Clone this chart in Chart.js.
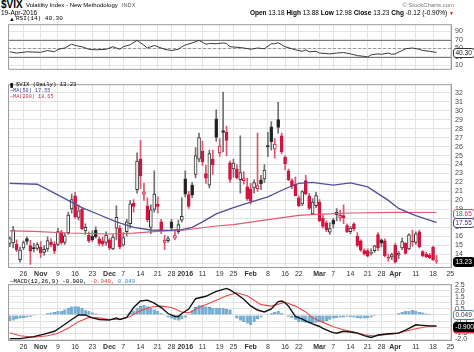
<!DOCTYPE html>
<html><head><meta charset="utf-8">
<title>$VIX Volatility Index</title>
<script src="https://cdn.jsdelivr.net/npm/chart.js"></script>
<style>
 html,body{margin:0;padding:0;background:#fff;}
 body{width:474px;height:352px;position:relative;overflow:hidden;font-family:"Liberation Sans",Arial,sans-serif;color:#000;}
 .t{position:absolute;white-space:nowrap;line-height:1;}
 .m{font-family:"Liberation Mono","DejaVu Sans Mono",monospace;}
 canvas{position:absolute;left:0;}
</style></head><body>
<canvas id="rsi" width="474" height="60" style="top:17px"></canvas>
<canvas id="price" width="474" height="202" style="top:77px"></canvas>
<canvas id="macd" width="474" height="75" style="top:277px"></canvas>
<div id="txt"></div>
<script>
// ---------- DATA ----------
const dates = [
'Oct 20','Oct 21','Oct 22','Oct 23','Oct 26','Oct 27','Oct 28','Oct 29','Oct 30',
'Nov 2','Nov 3','Nov 4','Nov 5','Nov 6','Nov 9','Nov 10','Nov 11','Nov 12','Nov 13','Nov 16','Nov 17','Nov 18','Nov 19','Nov 20','Nov 23','Nov 24','Nov 25','Nov 27','Nov 30',
'Dec 1','Dec 2','Dec 3','Dec 4','Dec 7','Dec 8','Dec 9','Dec 10','Dec 11','Dec 14','Dec 15','Dec 16','Dec 17','Dec 18','Dec 21','Dec 22','Dec 23','Dec 24','Dec 28','Dec 29','Dec 30','Dec 31',
'Jan 4','Jan 5','Jan 6','Jan 7','Jan 8','Jan 11','Jan 12','Jan 13','Jan 14','Jan 15','Jan 19','Jan 20','Jan 21','Jan 22','Jan 25','Jan 26','Jan 27','Jan 28','Jan 29',
'Feb 1','Feb 2','Feb 3','Feb 4','Feb 5','Feb 8','Feb 9','Feb 10','Feb 11','Feb 12','Feb 16','Feb 17','Feb 18','Feb 19','Feb 22','Feb 23','Feb 24','Feb 25','Feb 26','Feb 29',
'Mar 1','Mar 2','Mar 3','Mar 4','Mar 7','Mar 8','Mar 9','Mar 10','Mar 11','Mar 14','Mar 15','Mar 16','Mar 17','Mar 18','Mar 21','Mar 22','Mar 23','Mar 24','Mar 28','Mar 29','Mar 30','Mar 31',
'Apr 1','Apr 4','Apr 5','Apr 6','Apr 7','Apr 8','Apr 11','Apr 12','Apr 13','Apr 14','Apr 15','Apr 18','Apr 19',
'Apr 20','Apr 21','Apr 22','Apr 25'];

const opens = [15.20,15.25,15.10,13.40,14.70,15.75,14.95,14.75,14.65,
14.80,14.20,14.60,15.35,15.10,15.10,16.50,15.30,16.40,19.05,20.50,18.10,19.00,16.60,16.10,16.00,16.70,15.70,15.50,15.30,
15.60,14.60,16.90,16.90,15.00,16.50,17.40,19.70,21.20,24.60,20.70,19.40,17.00,19.00,19.60,17.60,15.30,15.50,17.60,15.80,16.50,17.80,
22.40,20.65,21.70,22.90,24.60,25.50,23.00,21.70,24.60,29.10,25.30,27.80,27.60,24.20,23.50,23.50,22.30,22.20,21.50,
21.30,21.40,21.30,22.30,22.40,26.10,28.20,25.70,29.00,27.20,24.80,23.30,22.20,21.80,20.30,19.60,22.20,20.50,18.50,19.40,
19.80,18.00,17.50,16.45,17.80,18.40,18.10,18.30,17.20,16.50,17.40,16.00,15.50,14.40,14.40,14.10,14.40,16.20,15.60,15.50,13.60,13.70,
15.00,13.90,14.70,15.20,14.60,15.40,15.30,16.50,14.30,14.00,13.90,14.80,13.18];
const highs = [15.95,17.10,15.60,14.80,15.50,15.95,15.55,15.20,15.30,
15.40,14.95,15.95,15.75,15.40,16.90,16.65,16.35,18.70,20.70,20.90,19.50,19.20,17.40,16.50,16.60,17.05,15.90,15.90,16.50,
15.80,16.20,19.40,17.20,16.40,17.90,20.00,20.10,25.30,26.70,21.90,20.30,19.50,23.30,20.40,17.90,16.10,16.00,17.90,16.70,17.80,20.30,
23.30,21.00,22.00,25.90,27.50,26.60,23.90,25.60,25.60,30.10,26.90,32.09,28.30,24.40,24.60,24.00,27.20,23.20,22.50,
21.90,22.30,27.50,22.80,24.00,27.60,28.80,26.90,30.95,27.50,25.00,23.50,22.40,22.60,20.50,21.10,22.80,20.80,20.20,20.90,
20.10,18.40,17.70,17.50,18.00,19.10,18.90,19.50,17.40,17.10,17.50,16.40,15.60,14.60,14.60,14.60,15.00,16.40,15.70,15.70,14.00,14.10,
15.20,14.30,15.80,15.30,16.30,16.70,16.50,16.70,14.40,14.20,14.10,14.90,13.88];
const lows = [14.85,14.70,14.30,13.10,14.50,15.10,12.85,14.25,14.45,
13.60,13.90,14.30,14.80,14.05,14.95,15.10,15.10,16.20,18.60,18.00,17.80,16.70,16.20,15.30,15.40,15.80,14.95,14.90,15.00,
14.50,14.50,15.60,14.60,14.90,16.00,16.90,18.70,20.80,21.30,20.00,17.60,16.30,18.70,18.60,16.30,14.50,15.30,16.60,15.60,16.30,17.60,
20.40,19.10,20.30,22.50,24.30,23.90,21.90,21.40,22.90,26.60,24.90,25.40,25.00,22.00,22.60,22.40,20.80,21.80,20.00,
19.60,20.80,21.00,21.20,22.00,24.90,25.60,24.70,27.50,25.20,23.40,22.20,21.30,20.50,19.30,19.40,20.60,19.00,18.40,19.20,
17.60,16.90,16.50,16.20,16.90,17.70,17.70,17.40,16.40,16.30,16.60,14.80,14.30,13.90,13.70,13.90,14.20,14.40,14.80,13.70,13.20,13.40,
13.00,13.50,14.50,14.00,14.50,14.90,15.10,14.70,13.70,13.60,13.50,13.30,12.98];
const closes = [15.75,16.70,14.45,14.46,15.29,15.43,14.33,14.61,15.07,
14.15,14.54,15.51,15.05,14.33,16.52,15.29,16.06,18.37,20.08,18.16,18.84,16.85,16.99,15.47,15.62,15.93,15.19,15.12,16.13,
14.67,15.91,18.11,14.81,15.84,17.60,19.61,19.34,24.39,22.73,20.95,17.86,18.94,20.70,19.34,16.60,15.57,15.74,16.91,16.08,17.29,18.21,
20.70,19.34,20.59,24.99,27.01,24.30,22.47,25.22,23.95,27.02,26.05,27.59,26.69,22.34,24.15,22.50,23.11,22.42,20.20,
19.98,21.98,21.65,21.84,23.38,26.00,26.54,26.29,28.14,25.40,24.11,22.31,21.64,20.53,19.38,20.98,20.72,19.11,19.81,20.55,
17.70,17.09,16.70,16.86,17.35,18.67,18.34,18.05,16.50,16.92,16.84,14.99,14.44,14.02,13.79,14.17,14.94,14.74,15.24,13.82,13.56,13.95,
13.10,14.12,15.42,14.09,16.16,15.36,16.26,14.85,13.84,13.72,13.62,13.35,13.23];

const ma50Pts = [['Oct 20',21.9],['Oct 30',21.8],['Nov 5',21.0],['Nov 12',20.0],['Nov 18',19.2],['Nov 25',18.4],['Dec 3',17.6],['Dec 10',17.0],['Dec 17',16.7],['Dec 24',16.65],['Dec 31',16.75],['Jan 6',17.0],['Jan 11',17.6],['Jan 15',18.5],['Jan 25',19.2],['Feb 1',19.8],['Feb 8',20.4],['Feb 16',21.3],['Feb 22',21.9],['Feb 26',22.0],['Mar 1',21.9],['Mar 7',21.7],['Mar 14',21.95],['Mar 21',21.5],['Mar 28',20.5],['Mar 30',20.0],['Apr 4',19.1],['Apr 7',18.6],['Apr 11',18.3],['Apr 14',17.9],['Apr 19',17.55]];
const ma200Pts = [['Oct 20',16.6],['Oct 29',16.55],['Nov 12',16.36],['Dec 1',16.25],['Dec 10',16.35],['Dec 21',16.54],['Jan 4',16.7],['Jan 15',17.15],['Jan 25',17.3],['Feb 5',17.8],['Feb 22',18.33],['Feb 29',18.44],['Mar 14',18.6],['Apr 1',18.66],['Apr 19',18.65]];
const rsiPts = [['Oct 20',41.7],['Oct 22',38.8],['Oct 27',41.7],['Nov 2',40.6],['Nov 4',44.7],['Nov 6',41.7],['Nov 9',47.6],['Nov 11',50.6],['Nov 13',59.4],['Nov 16',56.4],['Nov 18',53.5],['Nov 20',47.6],['Nov 24',46.4],['Nov 30',47.6],['Dec 2',53.5],['Dec 4',47.6],['Dec 7',53.5],['Dec 9',58.2],['Dec 11',68.2],['Dec 15',57.0],['Dec 16',50.6],['Dec 18',56.4],['Dec 23',47.6],['Dec 28',44.7],['Dec 30',47.6],['Dec 31',53.5],['Jan 4',57.6],['Jan 6',62.3],['Jan 8',68.2],['Jan 12',59.4],['Jan 13',61.1],['Jan 15',60.5],['Jan 20',62.3],['Jan 21',61.1],['Jan 22',53.5],['Jan 27',51.7],['Jan 28',50.6],['Feb 1',47.6],['Feb 3',50.6],['Feb 5',48.8],['Feb 9',60.5],['Feb 10',60.5],['Feb 11',62.9],['Feb 16',53.5],['Feb 18',48.8],['Feb 19',46.4],['Feb 23',42.9],['Feb 24',46.4],['Feb 25',41.7],['Feb 29',42.9],['Mar 1',38.8],['Mar 4',37.0],['Mar 8',38.8],['Mar 10',40.0],['Mar 14',37.0],['Mar 16',32.9],['Mar 18',31.2],['Mar 21',30.0],['Mar 22',34.7],['Mar 24',37.0],['Mar 28',35.9],['Mar 30',38.8],['Mar 31',35.9],['Apr 1',37.0],['Apr 5',44.7],['Apr 6',48.8],['Apr 8',50.6],['Apr 12',47.6],['Apr 13',44.7],['Apr 15',42.9],['Apr 19',40.30]];
const macdPts = [['Oct 20',-1.95],['Oct 23',-1.95],['Oct 29',-1.78],['Nov 3',-1.58],['Nov 6',-1.34],['Nov 10',-0.97],['Nov 13',-0.37],['Nov 17',0.0],['Nov 19',0.0],['Nov 23',-0.24],['Nov 25',-0.37],['Dec 1',-0.41],['Dec 3',-0.24],['Dec 4',-0.37],['Dec 8',-0.2],['Dec 10',0.61],['Dec 14',1.15],['Dec 16',1.22],['Dec 18',0.98],['Dec 22',0.61],['Dec 24',0.12],['Dec 29',-0.12],['Dec 30',-0.12],['Dec 31',0.12],['Jan 5',0.49],['Jan 7',1.34],['Jan 12',1.54],['Jan 15',1.95],['Jan 21',2.19],['Jan 22',2.07],['Jan 26',1.71],['Jan 28',1.3],['Feb 1',0.75],['Feb 3',0.41],['Feb 5',0.25],['Feb 9',0.5],['Feb 11',1.1],['Feb 12',1.15],['Feb 16',1.0],['Feb 17',0.73],['Feb 18',0.3],['Feb 19',-0.12],['Feb 23',-0.35],['Feb 24',-0.48],['Feb 26',-0.73],['Mar 1',-0.95],['Mar 2',-1.1],['Mar 4',-1.35],['Mar 7',-1.46],['Mar 8',-1.5],['Mar 10',-1.34],['Mar 14',-1.4],['Mar 16',-1.5],['Mar 18',-1.7],['Mar 22',-1.85],['Mar 24',-1.65],['Mar 30',-1.55],['Apr 4',-1.5],['Apr 6',-1.25],['Apr 7',-1.1],['Apr 11',-0.81],['Apr 13',-0.86],['Apr 15',-0.9],['Apr 19',-0.900]];
const signalPts = [['Oct 20',-1.46],['Oct 23',-1.71],['Oct 29',-1.83],['Nov 4',-1.71],['Nov 9',-1.5],['Nov 12',-1.1],['Nov 17',-0.55],['Nov 20',-0.2],['Nov 25',-0.24],['Dec 1',-0.37],['Dec 4',-0.37],['Dec 9',-0.12],['Dec 14',0.36],['Dec 17',0.66],['Dec 22',0.73],['Dec 28',0.61],['Dec 31',0.25],['Jan 5',0.17],['Jan 8',0.61],['Jan 14',1.1],['Jan 21',1.59],['Jan 26',1.83],['Jan 29',1.59],['Feb 4',0.85],['Feb 9',0.73],['Feb 16',1.05],['Feb 19',0.73],['Feb 24',0.25],['Feb 26',-0.24],['Mar 2',-0.61],['Mar 7',-0.97],['Mar 10',-1.22],['Mar 15',-1.41],['Mar 18',-1.63],['Mar 23',-1.73],['Mar 29',-1.63],['Apr 1',-1.54],['Apr 6',-1.34],['Apr 11',-1.14],['Apr 14',-0.97],['Apr 19',-0.949]];
const histVals = [-0.5,-0.45,-0.35,-0.3,-0.25,-0.2,-0.15,-0.1,-0.05,0.0,0.05,0.15,0.2,0.25,0.3,0.35,0.45,0.6,0.7,0.72,0.7,0.55,0.4,0.3,0.2,0.12,0.08,0.05,0.02,0.0,-0.02,0.05,0.02,0.05,0.1,0.2,0.35,0.6,0.75,0.85,0.7,0.55,0.45,0.3,0.15,-0.05,-0.2,-0.3,-0.4,-0.45,-0.35,-0.2,0.05,0.4,0.65,0.8,0.8,0.7,0.65,0.6,0.6,0.55,0.55,0.5,0.45,0.05,-0.3,-0.45,-0.55,-0.7,-0.8,-0.55,-0.35,-0.2,-0.05,0.05,0.15,0.25,0.3,0.15,-0.05,-0.15,-0.25,-0.4,-0.55,-0.6,-0.65,-0.7,-0.7,-0.65,-0.6,-0.55,-0.5,-0.4,-0.3,-0.25,-0.2,-0.2,-0.15,-0.15,-0.2,-0.25,-0.3,-0.3,-0.25,-0.2,-0.1,-0.05,-0.03,0.0,0.02,0.03,0.05,0.15,0.25,0.3,0.35,0.38,0.35,0.25,0.2,0.12,0.08,0.06,0.049];

const xTickDates = ['Oct 26','Nov 2','Nov 9','Nov 16','Nov 23','Dec 1','Dec 7','Dec 14','Dec 21','Dec 28','Jan 4','Jan 11','Jan 19','Jan 25','Feb 1','Feb 8','Feb 16','Feb 22','Mar 1','Mar 7','Mar 14','Mar 21','Mar 28','Apr 1','Apr 11','Apr 18','Apr 25'];
const xTickTexts = ['26','Nov','9','16','23','Dec','7','14','21','28','2016','11','19','25','Feb','8','16','22','Mar','7','14','21','28','Apr','11','18','25'];
const boldTicks = ['Nov','Dec','2016','Feb','Mar','Apr'];
const priceTicks = [13,14,15,16,17,18,19,20,21,22,23,24,25,26,27,28,29,30,31,32];
const rsiTicks = [10,30,50,70,90];
const macdTicks = [-2,-1.5,-1,-0.5,0,0.5,1,1.5,2,2.5];

// ---------- HELPERS ----------
const F = '"Liberation Sans", Arial, sans-serif';
const fill = pts => { const a = dates.map(() => null); pts.forEach(([d, v]) => { a[dates.indexOf(d)] = v; }); return a; };
const last = pts => pts[pts.length - 1][1];
const tickText = i => { const k = xTickDates.indexOf(dates[i]); return k < 0 ? '' : xTickTexts[k]; };

function xAxis(show) {
  return {
    type: 'category', offset: true,
    grid: { offset: false, drawTicks: false, lineWidth: 1, color: c => tickText(c.index) ? '#e3e3e3' : 'rgba(0,0,0,0)' },
    border: { display: false },
    ticks: { display: show, autoSkip: false, maxRotation: 0, minRotation: 0, padding: 2, color: '#333',
      font: c => ({ family: F, size: 7, weight: boldTicks.includes(tickText(c.index)) ? 'bold' : 'normal' }),
      callback: (v, i) => tickText(i) },
    afterFit: s => { s.height = show ? 11 : 0; }
  };
}
function yAxis(min, max, ticks, fmt) {
  return {
    position: 'right', min, max,
    afterBuildTicks: s => { s.ticks = ticks.map(v => ({ value: v })); },
    grid: { drawTicks: false, color: '#e3e3e3' },
    border: { display: false },
    ticks: { autoSkip: false, padding: 3, color: '#444', font: { family: F, size: 7 }, callback: fmt || (v => v) },
    afterFit: s => { s.width = 22; }
  };
}
const panel = {
  id: 'panel',
  beforeDatasetsDraw(chart, args, o) {
    const c = chart.ctx, a = chart.chartArea, y = chart.scales.y;
    (o.refs || []).forEach(r => {
      const py = Math.round(y.getPixelForValue(r.v)) + 0.5;
      c.save(); c.strokeStyle = r.color; c.lineWidth = 1; c.setLineDash(r.dash || []);
      c.beginPath(); c.moveTo(a.left, py); c.lineTo(a.right, py); c.stroke(); c.restore();
    });
  },
  afterDraw(chart, args, o) {
    const c = chart.ctx, a = chart.chartArea, y = chart.scales.y;
    c.save(); c.strokeStyle = '#9c9c9c'; c.lineWidth = 1;
    c.strokeRect(a.left + 0.5, a.top + 0.5, a.right - a.left - 1, a.bottom - a.top - 1); c.restore();
    (o.tags || []).forEach(t => {
      c.save(); c.font = '6.5px ' + F;
      const w = Math.ceil(c.measureText(t.text).width) + 4, h = 9;
      const x = a.right + 1.5, yy = Math.round(y.getPixelForValue(t.v)) - 4 + (t.dy || 0) + 0.5;
      c.beginPath(); c.roundRect(x, yy, w, h, 2.5);
      c.fillStyle = t.bg; c.fill(); c.strokeStyle = t.line; c.lineWidth = 1; c.stroke();
      c.fillStyle = t.color; c.textBaseline = 'middle'; c.fillText(t.text, x + 2, yy + h / 2 + 0.5);
      c.restore();
    });
  }
};
const base = (padTop) => ({
  responsive: false, animation: false, events: [],
  layout: { padding: { left: 8, right: 0, top: padTop || 0, bottom: 0 } },
});

// ---------- RSI ----------
const rsiLast = last(rsiPts);
new Chart(document.getElementById('rsi'), {
  type: 'line',
  data: { labels: dates, datasets: [
    { data: fill(rsiPts), borderColor: '#3a3a3a', borderWidth: 1, pointRadius: 0, spanGaps: true, tension: 0 }
  ]},
  options: Object.assign(base(), {
    scales: { x: xAxis(false), y: yAxis(0, 105.8, rsiTicks) },
    plugins: { legend: { display: false }, tooltip: { enabled: false },
      panel: { refs: [{ v: 70, color: '#7a7a7a' }, { v: 30, color: '#7a7a7a' }, { v: 50, color: '#9a9a9a', dash: [3, 2] }],
        tags: [{ v: rsiLast, text: rsiLast.toFixed(2), bg: '#fff', line: '#333', color: '#111' }] } }
  }),
  plugins: [panel]
});

// ---------- PRICE ----------
const isUp = closes.map((c, i) => c >= opens[i]);
const isBlack = closes.map((c, i) => i === 0 ? true : c >= closes[i - 1]);
const RED = '#d21440', BLK = '#1e1e1e';
const ma50Last = last(ma50Pts), ma200Last = last(ma200Pts), lastClose = closes[closes.length - 1];
new Chart(document.getElementById('price'), {
  type: 'bar',
  data: { labels: dates, datasets: [
    { type: 'line', data: fill(ma50Pts), borderColor: '#50509a', borderWidth: 1.3, pointRadius: 0, spanGaps: true, order: 1 },
    { type: 'line', data: fill(ma200Pts), borderColor: '#e05a72', borderWidth: 1.1, pointRadius: 0, spanGaps: true, order: 2 },
    { data: opens.map((o, i) => [o, closes[i]]), grouped: false, barThickness: 3, minBarLength: 1,
      backgroundColor: isUp.map((u, i) => u ? '#ffffff' : (isBlack[i] ? BLK : RED)),
      borderColor: isBlack.map(b => b ? '#333' : RED), borderWidth: 1, borderSkipped: false, order: 3 },
    { data: highs.map((h, i) => [lows[i], h]), grouped: false, barThickness: 1,
      backgroundColor: isBlack.map(b => b ? '#707070' : '#e2546e'), order: 4 }
  ]},
  options: Object.assign(base(), {
    scales: { x: xAxis(true), y: yAxis(12.46, 32.96, priceTicks) },
    plugins: { legend: { display: false }, tooltip: { enabled: false },
      panel: { tags: [
        { v: ma200Last, text: ma200Last.toFixed(2), bg: '#fff', line: '#d8486a', color: '#c83050' },
        { v: ma50Last, text: ma50Last.toFixed(2), bg: '#fff', line: '#44448e', color: '#33337a' },
        { v: lastClose, text: lastClose.toFixed(2), bg: '#000', line: '#000', color: '#fff' } ] } }
  }),
  plugins: [panel]
});

// ---------- MACD ----------
const macdLast = last(macdPts), sigLast = last(signalPts), histLast = histVals[histVals.length - 1];
new Chart(document.getElementById('macd'), {
  type: 'bar',
  data: { labels: dates, datasets: [
    { type: 'line', data: fill(macdPts), borderColor: '#111', borderWidth: 1.4, pointRadius: 0, spanGaps: true, order: 1 },
    { type: 'line', data: fill(signalPts), borderColor: '#ec4a4a', borderWidth: 1.1, pointRadius: 0, spanGaps: true, order: 2 },
    { data: histVals, backgroundColor: '#6aaed8', borderColor: '#2c6e9c', borderWidth: 0.6, borderSkipped: false,
      barPercentage: 1, categoryPercentage: 0.92, order: 3 }
  ]},
  options: Object.assign(base(), {
    scales: { x: xAxis(true), y: yAxis(-2.145, 2.537, macdTicks, v => v.toFixed(1)) },
    plugins: { legend: { display: false }, tooltip: { enabled: false },
      panel: { tags: [
        { v: histLast, text: histLast.toFixed(3), bg: '#fff', line: '#4a86b4', color: '#333' },
        { v: sigLast, text: sigLast.toFixed(3), bg: '#e03a3a', line: '#e03a3a', color: '#fff', dy: 1.5 },
        { v: macdLast, text: macdLast.toFixed(3), bg: '#000', line: '#000', color: '#fff' } ] } }
  }),
  plugins: [panel]
});

// ---------- TEXT ----------
const chg = lastClose - closes[closes.length - 2];
const pct = chg / closes[closes.length - 2] * 100;
const T = (style, html, cls) => `<div class="t ${cls || ''}" style="${style}">${html}</div>`;
document.getElementById('txt').innerHTML =
  T('left:1px;top:0px;font-size:10px;font-weight:bold;', '$VIX') +
  T('left:26px;top:2.2px;font-size:6px;', 'Volatility Index - New Methodology') +
  T('left:122px;top:2.6px;font-size:5.6px;color:#555;', 'INDX') +
  T('left:1px;top:9.5px;font-size:6.5px;', '19-Apr-2016') +
  T('right:20px;top:2px;font-size:6px;color:#777;', '© StockCharts.com') +
  T('right:20px;top:10px;font-size:6.5px;', `<b>Open</b> ${opens[opens.length-1].toFixed(2)} <b>High</b> ${highs[highs.length-1].toFixed(2)} <b>Low</b> ${lows[lows.length-1].toFixed(2)} <b>Close</b> ${lastClose.toFixed(2)} <b>Chg</b> ${chg.toFixed(2)} (${pct.toFixed(2)}%) <span style="color:#d00;font-size:5px">&#9660;</span>`) +
  T('left:9px;top:16px;font-size:6px;font-weight:bold;', '&#9650;') +
  T('left:16px;top:16px;font-size:6px;', `RSI(14) ${rsiLast.toFixed(2)}`, 'm') +
  T('left:10px;top:82px;font-size:6px;font-weight:bold;', '&#9646;') +
  T('left:16px;top:82px;font-size:5.6px;', `$VIX (Daily) ${lastClose.toFixed(2)}`, 'm') +
  T('left:10px;top:88.5px;font-size:5.2px;color:#3c3c90;', `&#8212;MA(50) ${ma50Last.toFixed(2)}`, 'm') +
  T('left:10px;top:94.5px;font-size:5.2px;color:#d03050;', `&#8212;MA(200) ${ma200Last.toFixed(2)}`, 'm') +
  T('left:10px;top:278.5px;font-size:5.8px;', `&#8212;MACD(12,26,9) ${macdLast.toFixed(3)}, <span style="color:#e03a3a">${sigLast.toFixed(3)},</span> <span style="color:#3a8cc4">${histLast.toFixed(3)}</span>`, 'm');
</script>
</body></html>
